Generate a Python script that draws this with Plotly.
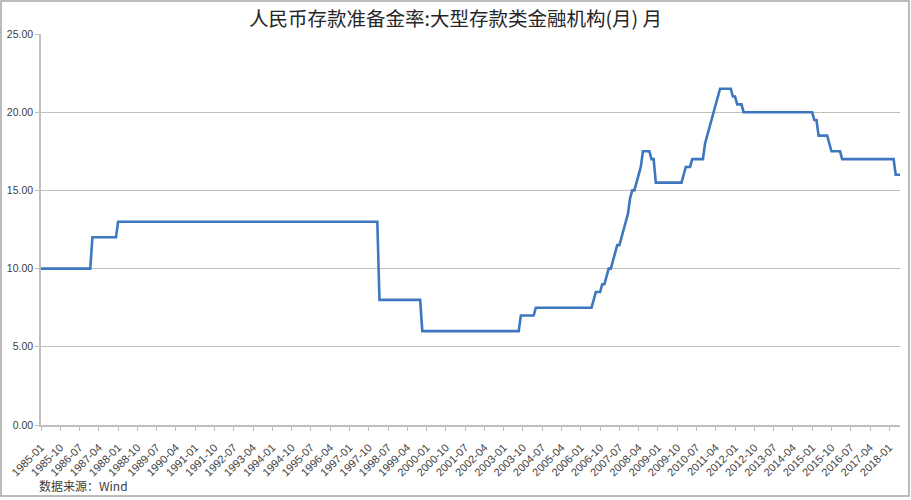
import plotly.graph_objects as go
import pandas as pd

# ---------------- data ----------------
months = pd.date_range("1985-01", periods=402, freq="MS").strftime("%Y-%m").tolist()

rrr = [
    # 1985
    10, 10, 10, 10, 10, 10, 10, 10, 10, 10, 10, 10,
    # 1986
    10, 10, 10, 10, 10, 10, 10, 10, 10, 10, 10, 10,
    # 1987
    12, 12, 12, 12, 12, 12, 12, 12, 12, 12, 12, 12,
    # 1988
    13, 13, 13, 13, 13, 13, 13, 13, 13, 13, 13, 13,
    # 1989
    13, 13, 13, 13, 13, 13, 13, 13, 13, 13, 13, 13,
    # 1990
    13, 13, 13, 13, 13, 13, 13, 13, 13, 13, 13, 13,
    # 1991
    13, 13, 13, 13, 13, 13, 13, 13, 13, 13, 13, 13,
    # 1992
    13, 13, 13, 13, 13, 13, 13, 13, 13, 13, 13, 13,
    # 1993
    13, 13, 13, 13, 13, 13, 13, 13, 13, 13, 13, 13,
    # 1994
    13, 13, 13, 13, 13, 13, 13, 13, 13, 13, 13, 13,
    # 1995
    13, 13, 13, 13, 13, 13, 13, 13, 13, 13, 13, 13,
    # 1996
    13, 13, 13, 13, 13, 13, 13, 13, 13, 13, 13, 13,
    # 1997
    13, 13, 13, 13, 13, 13, 13, 13, 13, 13, 13, 13,
    # 1998
    13, 13, 8, 8, 8, 8, 8, 8, 8, 8, 8, 8,
    # 1999
    8, 8, 8, 8, 8, 8, 8, 8, 8, 8, 6, 6,
    # 2000
    6, 6, 6, 6, 6, 6, 6, 6, 6, 6, 6, 6,
    # 2001
    6, 6, 6, 6, 6, 6, 6, 6, 6, 6, 6, 6,
    # 2002
    6, 6, 6, 6, 6, 6, 6, 6, 6, 6, 6, 6,
    # 2003
    6, 6, 6, 6, 6, 6, 6, 6, 7, 7, 7, 7,
    # 2004
    7, 7, 7, 7.5, 7.5, 7.5, 7.5, 7.5, 7.5, 7.5, 7.5, 7.5,
    # 2005
    7.5, 7.5, 7.5, 7.5, 7.5, 7.5, 7.5, 7.5, 7.5, 7.5, 7.5, 7.5,
    # 2006
    7.5, 7.5, 7.5, 7.5, 7.5, 7.5, 8, 8.5, 8.5, 8.5, 9, 9,
    # 2007
    9.5, 10, 10, 10.5, 11, 11.5, 11.5, 12, 12.5, 13, 13.5, 14.5,
    # 2008
    15, 15, 15.5, 16, 16.5, 17.5, 17.5, 17.5, 17.5, 17, 17, 15.5,
    # 2009
    15.5, 15.5, 15.5, 15.5, 15.5, 15.5, 15.5, 15.5, 15.5, 15.5, 15.5, 15.5,
    # 2010
    16, 16.5, 16.5, 16.5, 17, 17, 17, 17, 17, 17, 18, 18.5,
    # 2011
    19, 19.5, 20, 20.5, 21, 21.5, 21.5, 21.5, 21.5, 21.5, 21.5, 21,
    # 2012
    21, 20.5, 20.5, 20.5, 20, 20, 20, 20, 20, 20, 20, 20,
    # 2013
    20, 20, 20, 20, 20, 20, 20, 20, 20, 20, 20, 20,
    # 2014
    20, 20, 20, 20, 20, 20, 20, 20, 20, 20, 20, 20,
    # 2015
    20, 19.5, 19.5, 18.5, 18.5, 18.5, 18.5, 18.5, 18, 17.5, 17.5, 17.5,
    # 2016
    17.5, 17.5, 17, 17, 17, 17, 17, 17, 17, 17, 17, 17,
    # 2017
    17, 17, 17, 17, 17, 17, 17, 17, 17, 17, 17, 17,
    # 2018
    17, 17, 17, 16, 16, 16,
]

tick_months = months[::9]
y_ticks = [0, 5, 10, 15, 20, 25]

title_text = "人民币存款准备金率:大型存款类金融机构(月) 月"
source_text = "数据来源：Wind"

# ---------------- figure ----------------
GRID = "#bfbfbf"
TXT = "#404040"
CJK = "Noto Sans CJK SC"

fig = go.Figure()
fig.add_trace(go.Scatter(
    x=months, y=rrr, mode="lines",
    line=dict(color="#3d77bf", width=2.6),
    hoverinfo="x+y",
))

W, H = 911, 500
L, R, T, B = 41, 11, 34, 75
pw, ph = W - L - R, H - T - B

def px_x(x):
    return (x - L) / pw

def px_y(y):
    return (H - B - y) / ph

fig.update_layout(
    width=W, height=H,
    margin=dict(l=L, r=R, t=T, b=B, pad=0),
    paper_bgcolor="white", plot_bgcolor="white",
    showlegend=False,
    title=dict(
        text=title_text, x=0.5, xref="container", xanchor="center",
        y=1 - 19 / H, yref="container", yanchor="middle",
        font=dict(family=CJK, size=19.5, color="#262626"),
    ),
    xaxis=dict(
        type="category", range=[0, len(months) - 1], automargin=False,
        tickmode="array", tickvals=tick_months, ticktext=tick_months,
        tickangle=-45, ticks="outside", ticklen=4, tickcolor=GRID,
        ticklabelstandoff=6,
        showline=True, linecolor=GRID, linewidth=1.5,
        showgrid=False, zeroline=False,
        tickfont=dict(family="Liberation Sans", size=11, color=TXT),
    ),
    yaxis=dict(
        range=[0, 25], tickmode="array", tickvals=y_ticks, automargin=False,
        tickformat=".2f", ticks="outside", ticklen=4, tickcolor=GRID,
        showline=True, linecolor=GRID, linewidth=1.5,
        showgrid=True, gridcolor=GRID, gridwidth=1.2, zeroline=False,
        tickfont=dict(family="Liberation Sans", size=10.5, color=TXT),
    ),
    shapes=[dict(
        type="rect", xref="paper", yref="paper",
        x0=px_x(1), x1=px_x(909), y0=px_y(496), y1=px_y(1),
        line=dict(color="#a6a6a6", width=1.5), fillcolor="rgba(0,0,0,0)",
        layer="below",
    )],
    annotations=[dict(
        text=source_text, xref="paper", yref="paper",
        x=px_x(37), y=px_y(485), xanchor="left", yanchor="middle",
        showarrow=False, font=dict(family=CJK, size=12, color=TXT),
    )],
)

fig.write_html(
    "out.html",
    config={"displayModeBar": False},
    post_script="document.body.style.margin='0';document.body.style.overflow='hidden';",
)
